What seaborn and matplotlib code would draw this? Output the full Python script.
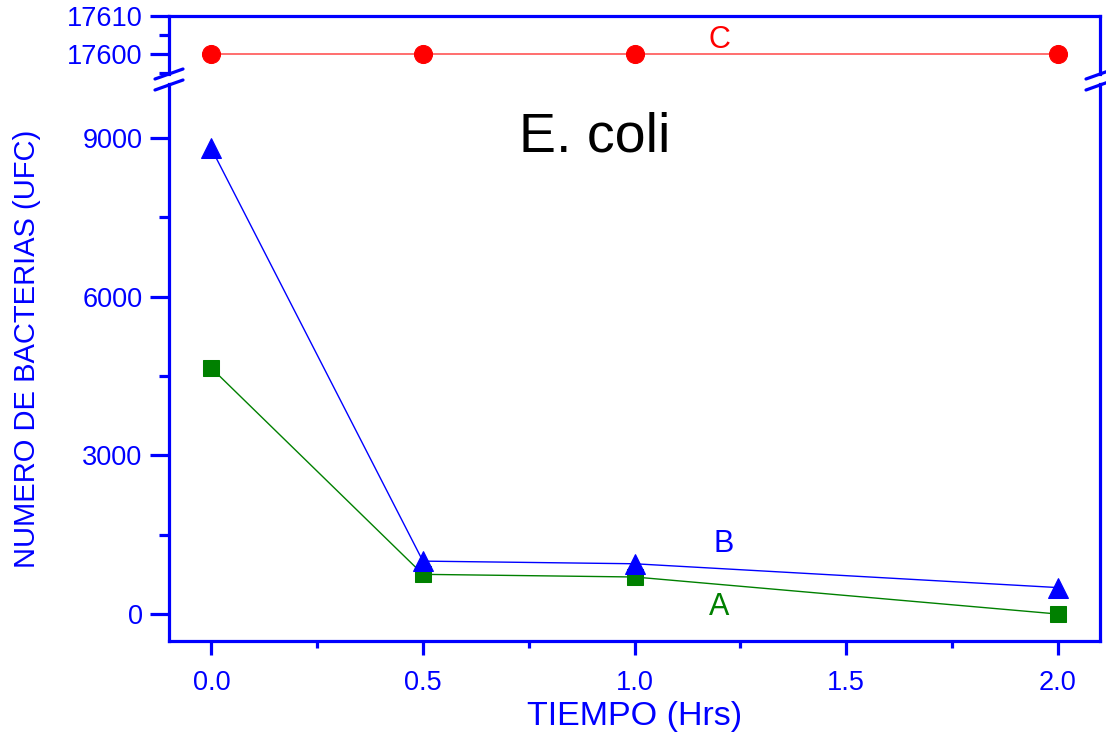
import matplotlib
matplotlib.use("Agg")
import matplotlib.pyplot as plt
from matplotlib.lines import Line2D
from matplotlib.ticker import MultipleLocator
import pandas as pd
import seaborn as sns

tiempo = [0.0, 0.5, 1.0, 2.0]
serie_a = [4650, 750, 700, 0]
serie_b = [8800, 1000, 950, 500]
serie_c = [17600, 17600, 17600, 17600]
x_ticks = [0.0, 0.5, 1.0, 1.5, 2.0]
y_ticks_low = [0, 3000, 6000, 9000]
y_ticks_high = [17600, 17610]

sns.set_theme(style="white")
plt.rcParams['font.family'] = ['Liberation Sans', 'DejaVu Sans']

BLUE = "#0000FF"
GREEN = "#008000"
RED = "#FF0000"
TICK_FS = 19.5

W, H = 1106, 738
fig = plt.figure(figsize=(W / 100, H / 100), dpi=100)

def fx(px):
    return px / W

def fy(py):
    return 1 - py / H

L, R = 169, 1100
ax_top = fig.add_axes([fx(L), fy(74), fx(R) - fx(L), fy(16) - fy(74)])
ax = fig.add_axes([fx(L), fy(641), fx(R) - fx(L), fy(84) - fy(641)])

df = pd.DataFrame({"t": tiempo, "A": serie_a, "B": serie_b, "C": serie_c})

sns.lineplot(data=df, x="t", y="A", ax=ax, color=GREEN, marker="s", markersize=11,
             markeredgecolor=GREEN, linewidth=1)
sns.lineplot(data=df, x="t", y="B", ax=ax, color=BLUE, marker="^", markersize=15,
             markeredgecolor=BLUE, linewidth=1)
sns.lineplot(data=df, x="t", y="C", ax=ax_top, color="#FF5555", marker="o", markersize=13,
             markerfacecolor=RED, markeredgecolor=RED, linewidth=1.2)

ax.set_xlim(-0.1, 2.1)
ax_top.set_xlim(-0.1, 2.1)
ax.set_ylim(-510, 10019)
ax_top.set_ylim(17594.7, 17610)

for a in (ax, ax_top):
    for s in a.spines.values():
        s.set_color(BLUE)
        s.set_linewidth(2.3)
    a.set_xlabel("")
    a.set_ylabel("")

ax.spines["top"].set_visible(False)
ax_top.spines["bottom"].set_visible(False)

ax.set_xticks(x_ticks)
ax.set_xticklabels([f"{v:.1f}" for v in x_ticks], fontsize=TICK_FS, color=BLUE)
ax.xaxis.set_minor_locator(MultipleLocator(0.25))
ax.set_yticks(y_ticks_low)
ax.set_yticklabels([str(v) for v in y_ticks_low], fontsize=TICK_FS, color=BLUE)
ax.yaxis.set_minor_locator(MultipleLocator(1500))

ax.tick_params(axis="x", which="major", bottom=True, top=False, length=10, width=2.3,
               color=BLUE, labelcolor=BLUE, labelsize=TICK_FS, pad=11, direction="out")
ax.tick_params(axis="x", which="minor", bottom=True, top=False, length=5, width=2.3,
               color=BLUE, direction="out")
ax.tick_params(axis="y", which="major", left=True, right=False, length=14, width=2.3,
               color=BLUE, labelcolor=BLUE, labelsize=TICK_FS, pad=5, direction="out")
ax.tick_params(axis="y", which="minor", left=True, right=False, length=7, width=2.3,
               color=BLUE, direction="out")

ax_top.set_xticks([])
ax_top.set_yticks(y_ticks_high)
ax_top.set_yticklabels([str(v) for v in y_ticks_high], fontsize=TICK_FS, color=BLUE)
ax_top.yaxis.set_minor_locator(MultipleLocator(5))
ax_top.tick_params(axis="y", which="major", left=True, right=False, length=14, width=2.3,
                   color=BLUE, labelcolor=BLUE, labelsize=TICK_FS, pad=5, direction="out")
ax_top.tick_params(axis="y", which="minor", left=True, right=False, length=7, width=2.3,
                   color=BLUE, direction="out")

# break marks
for xc in (L, R):
    for yc in (74, 85):
        fig.add_artist(Line2D([fx(xc - 14), fx(xc + 14)], [fy(yc + 5), fy(yc - 5)],
                              color=BLUE, linewidth=2.3))

# annotations
ax.text(1.21, 1330, "B", color=BLUE, fontsize=22, ha="center", va="center")
ax.text(1.2, 140, "A", color=GREEN, fontsize=22, ha="center", va="center")
ax_top.text(1.2, 17603.8, "C", color=RED, fontsize=22, ha="center", va="center")
ax.text(0.905, 9000, "E. coli", color="black", fontsize=40, ha="center", va="center")

fig.text(fx(635), fy(717), "TIEMPO (Hrs)", color=BLUE, fontsize=24.5, ha="center", va="center")
fig.text(fx(27), fy(349), "NUMERO DE BACTERIAS (UFC)", color=BLUE, fontsize=21,
         ha="center", va="center", rotation=90)

fig.savefig("out.png", dpi=100)
